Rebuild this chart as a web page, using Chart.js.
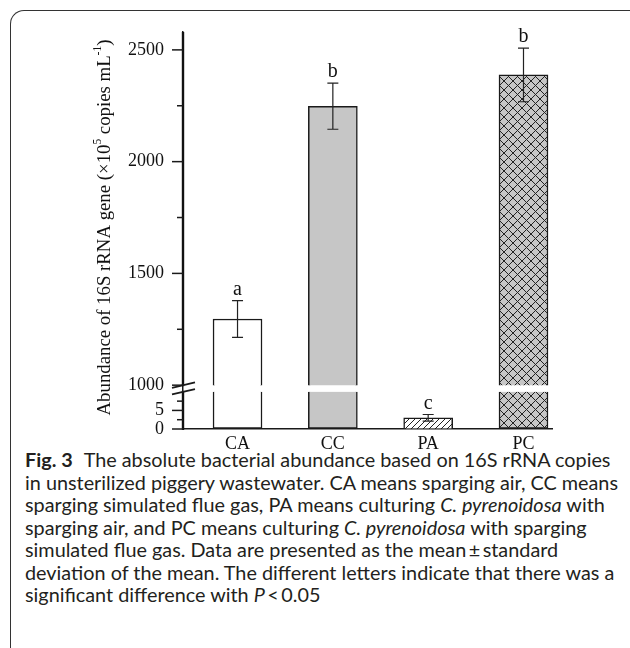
<!DOCTYPE html>
<html>
<head>
<meta charset="utf-8">
<script src="https://cdn.jsdelivr.net/npm/chart.js@4.4.1/dist/chart.umd.min.js"></script>
<style>
    body { margin: 0; background: #fff; width: 630px; height: 648px; overflow: hidden; position: relative; }
    #frame { position: absolute; left: 10px; top: 10px; width: 640px; height: 700px; z-index: 0;
             border-top: 1.5px solid #333; border-left: 1.5px solid #333;
             border-top-left-radius: 14px; pointer-events: none; }
    #chart { position: absolute; left: 0; top: 0; z-index: 2; }
    #caption { position: absolute; left: 25px; top: 449px; z-index: 1; font-family: Lato, sans-serif; font-size: 18.5px;
               line-height: 22.5px; color: #231f20; white-space: nowrap; transform-origin: 0 0; }
    #caption b { margin-right: 6px; }
</style>
</head>
<body>
<div id="frame"></div>
<canvas id="chart" width="630" height="455"></canvas>
<div id="caption">
    <div><b>Fig. 3</b> The absolute bacterial abundance based on 16S rRNA copies</div>
    <div id="ref-line">in unsterilized piggery wastewater. CA means sparging air, CC means</div>
    <div>sparging simulated flue gas, PA means culturing <i>C. pyrenoidosa</i> with</div>
    <div>sparging air, and PC means culturing <i>C. pyrenoidosa</i> with sparging</div>
    <div>simulated flue gas. Data are presented as the mean&thinsp;&plusmn;&thinsp;standard</div>
    <div>deviation of the mean. The different letters indicate that there was a</div>
    <div>significant difference with <i>P</i>&thinsp;&lt;&thinsp;0.05</div>
</div>
<script>
const categories = ['CA', 'CC', 'PA', 'PC'];
const positions = [1, 2, 3, 4];
const means = [1296, 2248, 3.0, 2388];
const errors = [82, 103, 0.9, 120];
const letters = ['a', 'b', 'c', 'b'];

const upperTicks = [1000, 1250, 1500, 1750, 2000, 2250, 2500];
const upperLabels = [1000, 1500, 2000, 2500];
const lowerTicks = [0, 2.5, 5, 7.5];
const lowerLabels = [0, 5];

const upperMin = 1000, upperMax = 2580;
const lowerMin = 0, lowerMax = 11.8, lowerCut = 10;

const ink = '#1a1a1a';
const serif = 'Liberation Serif';

function makeCrossHatch() {
    const s = 9;
    const c = document.createElement('canvas');
    c.width = s; c.height = s;
    const g = c.getContext('2d');
    g.fillStyle = '#c6c6c6';
    g.fillRect(0, 0, s, s);
    g.strokeStyle = '#222';
    g.lineWidth = 1;
    g.beginPath();
    g.moveTo(-1, -1); g.lineTo(s + 1, s + 1);
    g.moveTo(-1, s + 1); g.lineTo(s + 1, -1);
    g.stroke();
    return g.createPattern(c, 'repeat');
}

function makeDiagHatch() {
    const s = 6;
    const c = document.createElement('canvas');
    c.width = s; c.height = s;
    const g = c.getContext('2d');
    g.fillStyle = '#fff';
    g.fillRect(0, 0, s, s);
    g.strokeStyle = '#222';
    g.lineWidth = 1;
    g.beginPath();
    g.moveTo(-1, s + 1); g.lineTo(s + 1, -1);
    g.moveTo(-1, 1); g.lineTo(1, -1);
    g.moveTo(s - 1, s + 1); g.lineTo(s + 1, s - 1);
    g.stroke();
    return g.createPattern(c, 'repeat');
}

const fills = ['#ffffff', '#c6c6c6', makeDiagHatch(), makeCrossHatch()];

// y axis line, ticks, error bars, letters, axis break and y title
const extras = {
    id: 'extras',
    afterDraw(chart) {
        const ctx = chart.ctx;
        const x = chart.scales.x, yU = chart.scales.y, yL = chart.scales.y2;
        const axisX = Math.round(x.getPixelForValue(x.min));
        const yTop = yU.getPixelForValue(upperMax);
        const yBottom = yL.getPixelForValue(lowerMin);
        const b1 = yU.getPixelForValue(upperMin);
        const b2 = yL.getPixelForValue(lowerCut);

        ctx.save();
        ctx.globalAlpha = 1;
        ctx.globalCompositeOperation = 'source-over';
        ctx.fillStyle = '#111';
        ctx.fillRect(axisX - 1.2, yTop, 2.4, b1 + 1 - yTop);
        ctx.fillRect(axisX - 1.2, b2 - 1, 2.4, yBottom + 1 - (b2 - 1));

        ctx.strokeStyle = ink;
        ctx.lineWidth = 1.5;
        function ticks(scale, list, major) {
            list.forEach(v => {
                const py = scale.getPixelForValue(v);
                const len = major.includes(v) ? 11 : 6;
                ctx.beginPath();
                ctx.moveTo(axisX - len, py);
                ctx.lineTo(axisX, py);
                ctx.stroke();
            });
        }
        ticks(yU, upperTicks, upperLabels);
        ticks(yL, lowerTicks, lowerLabels);

        // axis break
        ctx.lineWidth = 1.8;
        [b1, b2].forEach(py => {
            ctx.beginPath();
            ctx.moveTo(axisX - 11, py + 2.6);
            ctx.lineTo(axisX + 12, py - 2.8);
            ctx.stroke();
        });

        // error bars and letters
        ctx.lineWidth = 1.2;
        ctx.strokeStyle = '#222';
        ctx.fillStyle = '#111';
        ctx.font = '20px ' + serif;
        ctx.textAlign = 'center';
        ctx.textBaseline = 'alphabetic';
        means.forEach((m, i) => {
            const scale = m > lowerCut ? yU : yL;
            const px = x.getPixelForValue(positions[i]);
            const top = scale.getPixelForValue(m + errors[i]);
            const bot = scale.getPixelForValue(m - errors[i]);
            const cap = 5.5;
            ctx.beginPath();
            ctx.moveTo(px, top); ctx.lineTo(px, bot);
            ctx.moveTo(px - cap, top); ctx.lineTo(px + cap, top);
            ctx.moveTo(px - cap, bot); ctx.lineTo(px + cap, bot);
            ctx.stroke();
            ctx.fillText(letters[i], px, top - 6);
        });

        // y axis title with superscripts
        const parts = [
            ['Abundance of 16S rRNA gene (\u00d710', 18.8, 0],
            ['5', 11.5, -7],
            [' copies mL', 18.8, 0],
            ['-1', 11.5, -7],
            [')', 18.8, 0]
        ];
        let total = 0;
        parts.forEach(p => { ctx.font = p[1] + 'px ' + serif; total += ctx.measureText(p[0]).width; });
        const cy = (yTop + yBottom) / 2 - 3;
        ctx.translate(105, cy);
        ctx.rotate(-Math.PI / 2);
        ctx.textAlign = 'left';
        ctx.textBaseline = 'middle';
        let tx = -total / 2;
        parts.forEach(p => {
            ctx.font = p[1] + 'px ' + serif;
            ctx.fillText(p[0], tx, p[2]);
            tx += ctx.measureText(p[0]).width;
        });
        ctx.restore();
    }
};

const tickFont = { family: serif, size: 18 };

function yAxis(weight, min, max, tickList, labelList) {
    return {
        type: 'linear',
        position: 'left',
        stack: 'broken',
        stackWeight: weight,
        min: min,
        max: max,
        afterBuildTicks: s => { s.ticks = tickList.map(v => ({ value: v })); },
        afterFit: s => { s.width = 183; },
        grid: { drawOnChartArea: false, drawTicks: true, tickLength: 11, tickColor: 'rgba(0,0,0,0)' },
        border: { display: true, color: ink, width: 1.5 },
        ticks: {
            autoSkip: false,
            padding: 8,
            color: '#111',
            font: tickFont,
            callback: v => labelList.includes(v) ? String(v) : ''
        }
    };
}

new Chart(document.getElementById('chart'), {
    type: 'bar',
    data: {
        datasets: [
            {
                data: positions.map((p, i) => ({ x: p, y: means[i] > lowerCut ? means[i] : null })),
                yAxisID: 'y',
                backgroundColor: fills,
                borderColor: ink,
                borderWidth: 1.5,
                borderSkipped: 'bottom',
                barThickness: 49,
                grouped: false
            },
            {
                data: positions.map((p, i) => ({ x: p, y: Math.min(means[i], lowerCut) })),
                yAxisID: 'y2',
                backgroundColor: fills,
                borderColor: ink,
                borderWidth: 1.5,
                borderSkipped: c => means[c.dataIndex] > lowerCut ? 'top' : 'bottom',
                barThickness: 49,
                grouped: false
            }
        ]
    },
    options: {
        responsive: false,
        animation: false,
        devicePixelRatio: 1,
        layout: { padding: { left: 0, top: 32, right: 78, bottom: 0 } },
        plugins: { legend: { display: false }, tooltip: { enabled: false } },
        scales: {
            x: {
                type: 'linear',
                offset: false,
                min: 0.428,
                max: 4.299,
                afterBuildTicks: s => { s.ticks = positions.map(v => ({ value: v })); },
                afterFit: s => { s.height = 26; },
                grid: { display: false, drawTicks: false, offset: false },
                border: { display: true, color: ink, width: 1.5 },
                ticks: {
                    autoSkip: false,
                    maxRotation: 0,
                    padding: 4,
                    color: '#111',
                    font: tickFont,
                    callback: v => categories[v - 1]
                }
            },
            // bottom segment listed first: stacked left axes are laid out in reverse order
            y2: yAxis(43.9, lowerMin, lowerMax, lowerTicks, lowerLabels),
            y: yAxis(353.7, upperMin, upperMax, upperTicks, upperLabels)
        }
    },
    plugins: [extras]
});

// squeeze the caption to the reference line width
document.fonts.ready.then(() => {
    const w = document.getElementById('ref-line').getBoundingClientRect().width;
    const k = 593 / w;
    document.getElementById('caption').style.transform = 'scaleX(' + k + ')';
});
</script>
</body>
</html>
